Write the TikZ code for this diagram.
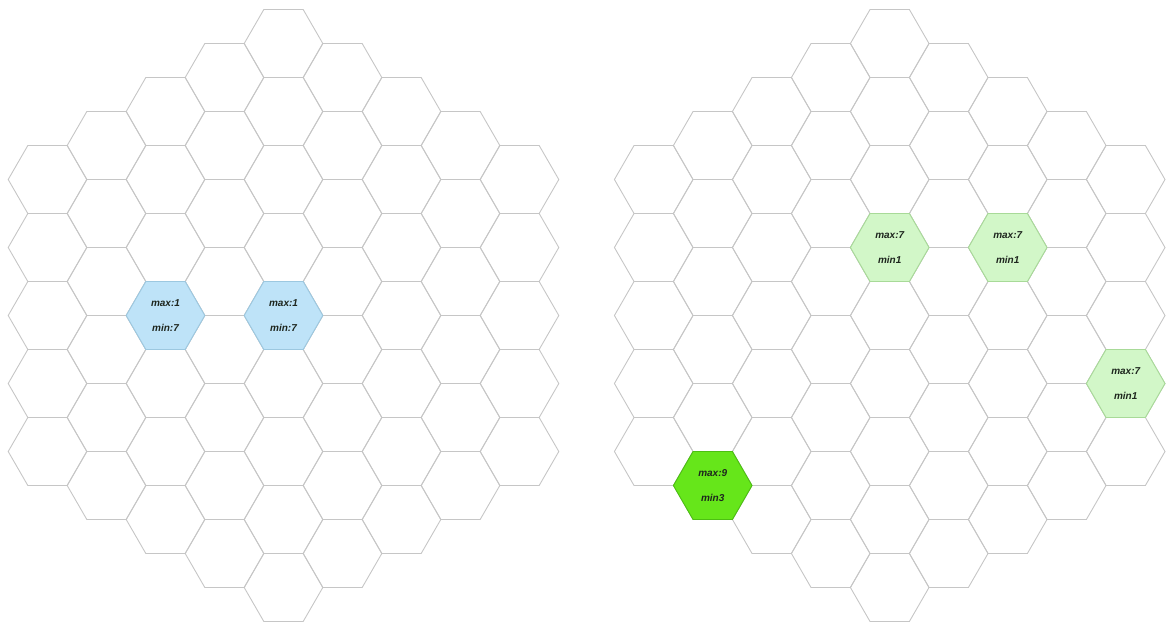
\documentclass[tikz,border=0pt]{standalone}
\usepackage{fontspec}
\setmainfont{Liberation Sans}
\usepackage{tikz}
\usetikzlibrary{shapes.geometric,positioning}

\definecolor{hexline}{HTML}{C6C6C6}
\definecolor{bluefill}{HTML}{BEE3F8}
\definecolor{blueline}{HTML}{9CC8E0}
\definecolor{palefill}{HTML}{D2F7C8}
\definecolor{paleline}{HTML}{A8DA98}
\definecolor{greenfill}{HTML}{66E61A}
\definecolor{greenline}{HTML}{4CBF12}
\definecolor{celltext}{HTML}{1E261E}

\begin{document}
\begin{tikzpicture}[x=1pt,y=-1pt,
  hexcell/.style={draw=hexline,line width=0.9pt,regular polygon,regular polygon sides=6,minimum size=78.6pt,inner sep=0pt},
  markcell/.style={hexcell,align=center,text=celltext,font=\fontsize{10}{24.5}\selectfont\bfseries\itshape},
  bluecell/.style={markcell,fill=bluefill,draw=blueline},
  palecell/.style={markcell,fill=palefill,draw=paleline},
  greencell/.style={markcell,fill=greenfill,draw=greenline}]
  \useasboundingbox (0,0) rectangle (1169,626);
  % two hexagonal boards
  \foreach \c in {0,...,8} {
    \pgfmathtruncatemacro\d{abs(\c-4)}
    \pgfmathtruncatemacro\n{8-\d}
    \foreach \k in {0,...,\n} {
      \node[hexcell] (L\c-\k) at ({283.5+59*(\c-4)},{43.5+34*\d+68*\k}) {};
      \node[hexcell] (R\c-\k) at ({889.7+59*(\c-4)},{43.5+34*\d+68*\k}) {};
    }
  }
  % marked cells
  \node[bluecell] (blueA) at (L2-3) {max:1\\min:7};
  \node[bluecell] (blueB) at (L4-4) {max:1\\min:7};
  \node[palecell] (paleA) at (R4-3) {max:7\\min1};
  \node[palecell] (paleB) at (R6-2) {max:7\\min1};
  \node[palecell] (paleC) at (R8-3) {max:7\\min1};
  \node[greencell] (greenA) at (R1-5) {max:9\\min3};
\end{tikzpicture}
\end{document}
